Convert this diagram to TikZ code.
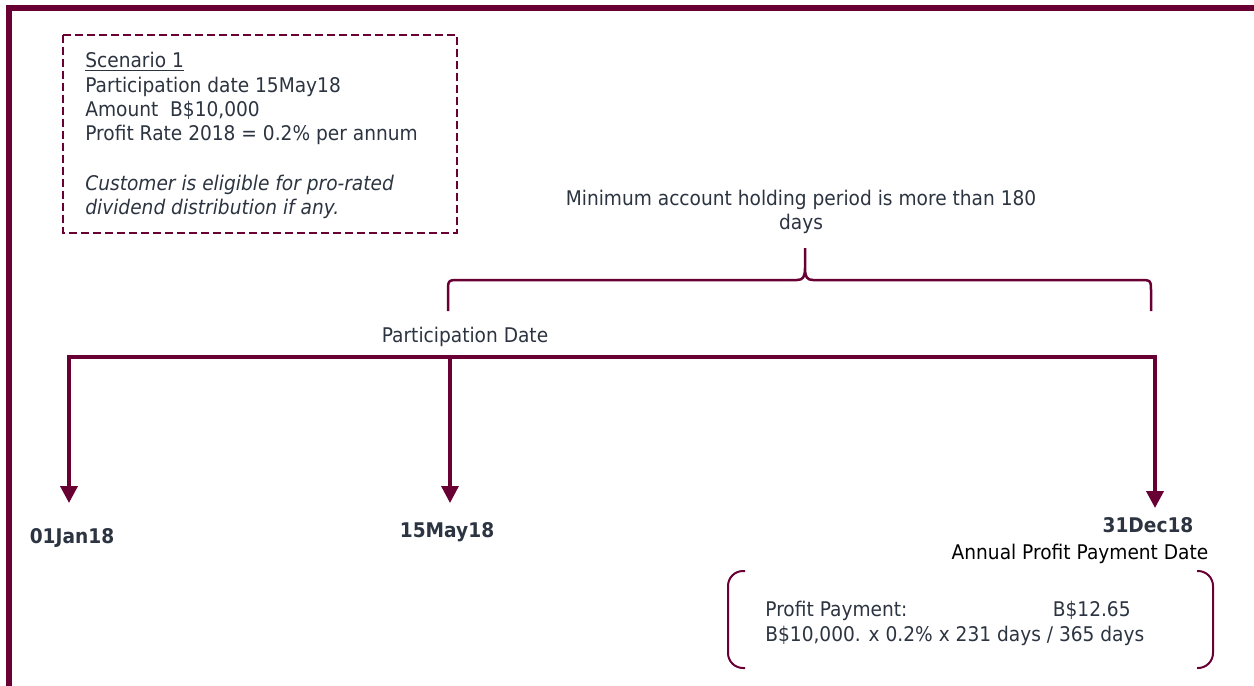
\documentclass[tikz,border=0pt]{standalone}
\usepackage{fontspec}
\setmainfont{DejaVu Sans}[FakeStretch=0.92]
\usetikzlibrary{arrows.meta}
\definecolor{maroon}{HTML}{680034}
\definecolor{slate}{HTML}{2B3440}
\tikzset{
	txt/.style={text=slate, font=\fontsize{11.5}{13.7}\selectfont, inner sep=0pt},
	datelbl/.style={txt, font=\fontsize{11.5}{13.7}\selectfont\bfseries},
	frame/.style={draw=maroon, line width=0.12cm},
	notebox/.style={draw=maroon, line width=0.04cm, dash pattern=on 0.16cm off 0.08cm},
	timeline/.style={draw=maroon, line width=0.09cm, line cap=rect},
	droparrow/.style={draw=maroon, line width=0.075cm, -{Triangle[width=0.34cm,length=0.34cm]}},
	bracket/.style={draw=maroon, line width=0.05cm},
}

\begin{document}
\begin{tikzpicture}[x=0.02cm, y=-0.02cm]
			%%%%% START %%%%%
			\useasboundingbox (0, 0) rectangle (1254, 686);
			
			\draw[frame] (1254, 8) -- (9, 8) -- (9, 686);
			
			% scenario note
			\draw[notebox] (63, 35) rectangle (457, 233);
			\node[txt, anchor=base west] (scen) at (85, 68) {\underline{Scenario 1}};
			\node[txt, anchor=base west] (pdate) at (85, 92.5) {Participation date 15May18};
			\node[txt, anchor=base west] (amount) at (85, 116.5) {Amount~~B\$10,000};
			\node[txt, anchor=base west] (rate) at (85, 140.5) {Profit Rate 2018 = 0.2\% per annum};
			\node[txt, anchor=base west] (elig1) at (85, 190) {\itshape Customer is eligible for pro-rated};
			\node[txt, anchor=base west] (elig2) at (85, 214) {\itshape dividend distribution if any.};
			
			% holding period brace
			\node[txt, anchor=base] (minhold) at (801, 205) {Minimum account holding period is more than 180};
			\node[txt, anchor=base] (days) at (801, 229) {days};
			\draw[bracket] (448, 311) -- (448, 292) .. controls (448, 280) .. (460, 280) -- (797, 280)
				.. controls (803, 280) and (805, 277) .. (805, 268) -- (805, 248) -- (805, 268)
				.. controls (805, 277) and (807, 280) .. (813, 280) -- (1139, 280)
				.. controls (1151, 280) .. (1151, 292) -- (1151, 311);
			
			\node[txt, anchor=base] (partlbl) at (465, 342) {Participation Date};
			
			% timeline
			\coordinate (tl) at (69, 357);
			\coordinate (tm) at (450, 357);
			\coordinate (tr) at (1155, 357);
			\coordinate (tipjan) at (69, 503);
			\coordinate (tipmay) at (450, 503);
			\coordinate (tipdec) at (1155, 508);
			\draw[timeline] (tl) -- (tr);
			\draw[droparrow] (tl) -- (tipjan);
			\draw[droparrow, line width=0.065cm] (tm) -- (tipmay);
			\draw[droparrow] (tr) -- (tipdec);
			
			\node[datelbl, anchor=base] (jan) at (72, 543) {01Jan18};
			\node[datelbl, anchor=base] (may) at (447, 537) {15May18};
			\node[datelbl, anchor=base] (dec) at (1148, 532) {31Dec18};
			\node[txt, text=black, anchor=base] (paylbl) at (1080, 559) {Annual Profit Payment Date};
			
			% payment calculation
			\draw[bracket, line width=0.04cm, rounded corners=0.3cm] (745, 571) -- (728, 571) -- (728, 668) -- (745, 668);
			\draw[bracket, line width=0.04cm, rounded corners=0.3cm] (1197, 571) -- (1213, 571) -- (1213, 668) -- (1197, 668);
			\node[txt, anchor=base west] (paytxt) at (765, 616) {Profit Payment:};
			\node[txt, anchor=base east] (payamt) at (1131, 616) {B\$12.65};
			\node[txt, anchor=base west] (calc) at (765, 641) {B\$10,000. x 0.2\% x 231 days / 365 days};
			
			%%%%% END %%%%%
\end{tikzpicture}
\end{document}
